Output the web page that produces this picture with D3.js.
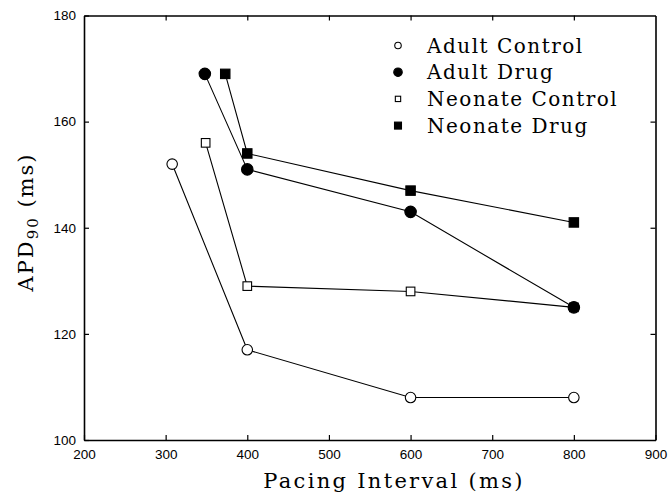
<!DOCTYPE html>
<html>
<head>
<meta charset="utf-8">
<script src="https://cdn.jsdelivr.net/npm/d3@7"></script>
<style>
  body { margin: 0; background: #fff; }
  svg { display: block; }
</style>
</head>
<body>
<div id="chart"></div>
<script>
// series data
var seriesNames = ['Adult Control', 'Adult Drug', 'Neonate Control', 'Neonate Drug'];
var adultControlX = [308, 400, 600, 800];
var adultControlY = [152, 117, 108, 108];
var adultDrugX = [348, 400, 600, 800];
var adultDrugY = [169, 151, 143, 125];
var neonateControlX = [349, 400, 600, 800];
var neonateControlY = [156, 129, 128, 125];
var neonateDrugX = [373, 400, 600, 800];
var neonateDrugY = [169, 154, 147, 141];
var xTicks = [200, 300, 400, 500, 600, 700, 800, 900];
var yTicks = [100, 120, 140, 160, 180];

var series = [
  { name: seriesNames[0], xs: adultControlX, ys: adultControlY, shape: 'circle', filled: false },
  { name: seriesNames[1], xs: adultDrugX, ys: adultDrugY, shape: 'circle', filled: true },
  { name: seriesNames[2], xs: neonateControlX, ys: neonateControlY, shape: 'square', filled: false },
  { name: seriesNames[3], xs: neonateDrugX, ys: neonateDrugY, shape: 'square', filled: true }
];

var width = 670, height = 497;
var plotLeft = 84, plotTop = 15.5, plotRight = 655.5, plotBottom = 440;

var svg = d3.select('#chart').append('svg')
  .attr('width', width)
  .attr('height', height);

var x = d3.scaleLinear().domain([200, 900]).range([plotLeft, plotRight]);
var y = d3.scaleLinear().domain([100, 180]).range([plotBottom, plotTop]);

var tickFont = '"Liberation Sans", Arial, sans-serif';
var titleFont = '"DejaVu Serif", "Liberation Serif", serif';

// frame with inward ticks on all four sides
var bottomAxis = d3.axisBottom(x).tickValues(xTicks).tickSizeInner(-5).tickSizeOuter(0).tickPadding(9);
var topAxis = d3.axisTop(x).tickValues(xTicks.slice(1, -1)).tickSizeInner(-5).tickSizeOuter(0).tickFormat('');
var leftAxis = d3.axisLeft(y).tickValues(yTicks).tickSizeInner(-5).tickSizeOuter(0).tickPadding(8);
var rightAxis = d3.axisRight(y).tickValues(yTicks.slice(1, -1)).tickSizeInner(-5).tickSizeOuter(0).tickFormat('');

function styleAxis(g) {
  g.select('.domain').attr('stroke', '#000').attr('stroke-width', 1.6);
  g.selectAll('.tick line').attr('stroke', '#000').attr('stroke-width', 1.2);
  g.selectAll('.tick text').attr('fill', '#000').style('font-family', tickFont).style('font-size', '13.5px');
}

svg.append('g').attr('transform', 'translate(0,' + plotBottom + ')').call(bottomAxis).call(styleAxis);
svg.append('g').attr('transform', 'translate(0,' + plotTop + ')').call(topAxis).call(styleAxis);
svg.append('g').attr('transform', 'translate(' + plotLeft + ',0)').call(leftAxis).call(styleAxis);
svg.append('g').attr('transform', 'translate(' + plotRight + ',0)').call(rightAxis).call(styleAxis);

// lines
var line = d3.line()
  .x(function(d) { return x(d[0]); })
  .y(function(d) { return y(d[1]); });

series.forEach(function(s) {
  s.points = s.xs.map(function(v, i) { return [v, s.ys[i]]; });
  svg.append('path')
    .datum(s.points)
    .attr('d', line)
    .attr('fill', 'none')
    .attr('stroke', '#000')
    .attr('stroke-width', 1.1);
});

function drawMarker(g, s, cx, cy, size) {
  if (s.shape === 'circle') {
    g.append('circle')
      .attr('cx', cx).attr('cy', cy)
      .attr('r', size / 2)
      .attr('fill', s.filled ? '#000' : '#fff')
      .attr('stroke', '#000')
      .attr('stroke-width', 1.1);
  } else {
    var side = size * 0.82;
    g.append('rect')
      .attr('x', cx - side / 2).attr('y', cy - side / 2)
      .attr('width', side).attr('height', side)
      .attr('fill', s.filled ? '#000' : '#fff')
      .attr('stroke', '#000')
      .attr('stroke-width', 1.1);
  }
}

// markers: open symbols first so the filled ones sit on top where they overlap
var drawOrder = series.filter(function(s) { return !s.filled; })
  .concat(series.filter(function(s) { return s.filled; }));
drawOrder.forEach(function(s) {
  var g = svg.append('g');
  s.points.forEach(function(p) {
    drawMarker(g, s, x(p[0]), y(p[1]), s.filled ? 11.5 : 10.5);
  });
});

// legend
var legend = svg.append('g');
series.forEach(function(s, i) {
  var ly = 45.5 + i * 26.7;
  drawMarker(legend, s, 398, ly, s.filled ? 8.5 : 6.5);
  legend.append('text')
    .attr('x', 427)
    .attr('y', ly + 7)
    .style('font-family', titleFont)
    .style('font-size', '20px')
    .style('letter-spacing', '1.5px')
    .text(s.name);
});

// axis titles
svg.append('text')
  .attr('x', 394)
  .attr('y', 488)
  .attr('text-anchor', 'middle')
  .style('font-family', titleFont)
  .style('font-size', '21px')
  .style('letter-spacing', '2.3px')
  .text('Pacing Interval (ms)');

var yTitle = svg.append('text')
  .attr('transform', 'translate(33,222) rotate(-90)')
  .attr('text-anchor', 'middle')
  .style('font-family', titleFont)
  .style('font-size', '21px')
  .style('letter-spacing', '2px');
yTitle.append('tspan').text('APD');
yTitle.append('tspan').attr('dy', 5).style('font-size', '15px').text('90');
yTitle.append('tspan').attr('dy', -5).text(' (ms)');
</script>
</body>
</html>
